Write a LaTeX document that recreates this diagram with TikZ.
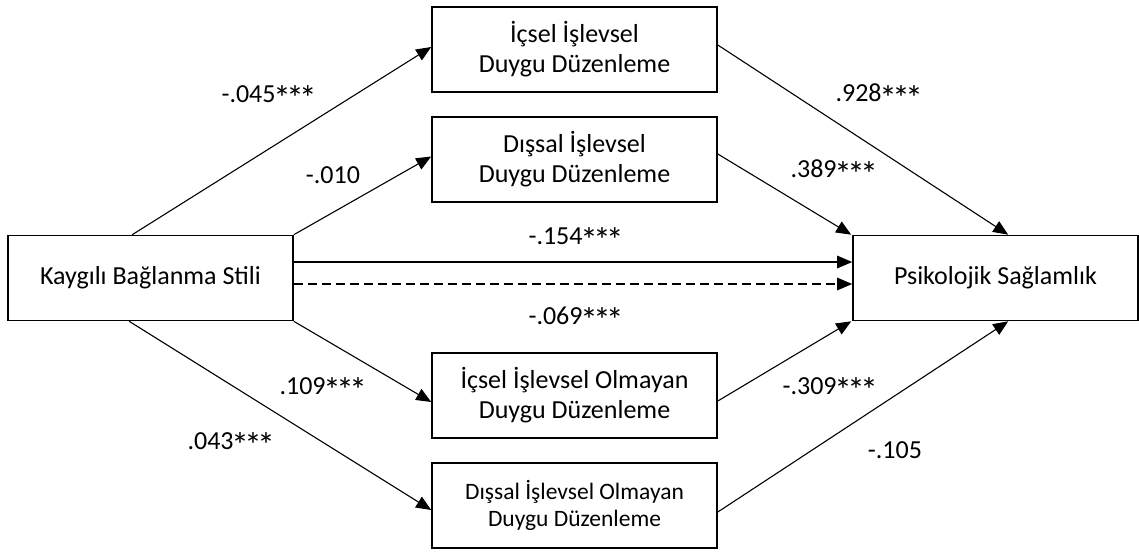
\documentclass[tikz,border=0pt]{standalone}
\usepackage{fontspec}
\usepackage{graphicx}
\setmainfont{Carlito}
\usetikzlibrary{arrows.meta,calc}
\newcommand\myast{\makebox[0.498em]{\raisebox{\dimexpr\fontcharht\font`\0-\height\relax}{\scalebox{1.35}{*}}}}
\newcommand\sig{\myast\myast\myast}
\begin{document}
\begin{tikzpicture}[x=1pt,y=-1pt,
  box/.style={draw,line width=1.6pt,minimum width=285pt,minimum height=85pt,inner sep=0pt,align=center,font=\fontsize{26}{30}\selectfont},
  smallbox/.style={box,font=\fontsize{23.5}{27}\selectfont},
  lbl/.style={inner sep=0pt,font=\fontsize{26}{30}\selectfont},
  conn/.style={line width=1.1pt,-{Triangle[length=15pt,width=12.5pt]}}]
\useasboundingbox (0,0) rectangle (1139,552);
\node[box] (L) at (150.5,278) {Kaygılı Bağlanma Stili};
\node[box] (R) at (995.5,278) {Psikolojik Sağlamlık};
\node[box] (B1) at (574.5,49.5) {İçsel İşlevsel\\Duygu Düzenleme};
\node[box] (B2) at (574.5,159.5) {Dışsal İşlevsel\\Duygu Düzenleme};
\node[box] (B3) at (574.5,395.5) {İçsel İşlevsel Olmayan\\Duygu Düzenleme};
\node[smallbox] (B4) at (574.5,505.5) {Dışsal İşlevsel Olmayan\\Duygu Düzenleme};
% left side
\draw[conn] ($(L.north west)+(125,0)$) -- ($(B1.west)+(0,-2.5)$);
\draw[conn] (L.north east) -- ($(B2.west)+(0,-3)$);
\draw[conn] ($(L.east)+(0,-16)$) -- ($(R.west)+(0,-16)$);
\draw[conn,dash pattern=on 9pt off 5pt] ($(L.east)+(0,6)$) -- ($(R.west)+(0,6)$);
\draw[conn] (L.south east) -- ($(B3.west)+(0,6.5)$);
\draw[conn] ($(L.south west)+(122,0)$) -- ($(B4.west)+(0,4.5)$);
% right side
\draw[conn] ($(B1.east)+(0,-4.5)$) -- ($(R.north west)+(156,0)$);
\draw[conn] ($(B2.east)+(0,-5.5)$) -- ($(R.north west)+(-1,0)$);
\draw[conn] ($(B3.east)+(0,5.5)$) -- ($(R.south west)+(-1,0)$);
\draw[conn] ($(B4.east)+(0,6.5)$) -- ($(R.south west)+(156,0)$);
% labels
\node[lbl] (l1) at (268,98) {-.045\sig};
\node[lbl] (l2) at (333,175) {-.010};
\node[lbl] (l3) at (575,240) {-.154\sig};
\node[lbl] (l4) at (575,320) {-.069\sig};
\node[lbl] (l5) at (322,390) {.109\sig};
\node[lbl] (l6) at (230,445) {.043\sig};
\node[lbl] (l7) at (878,97) {.928\sig};
\node[lbl] (l8) at (833,173) {.389\sig};
\node[lbl] (l9) at (829,390) {-.309\sig};
\node[lbl] (l10) at (895,450) {-.105};
\end{tikzpicture}
\end{document}
